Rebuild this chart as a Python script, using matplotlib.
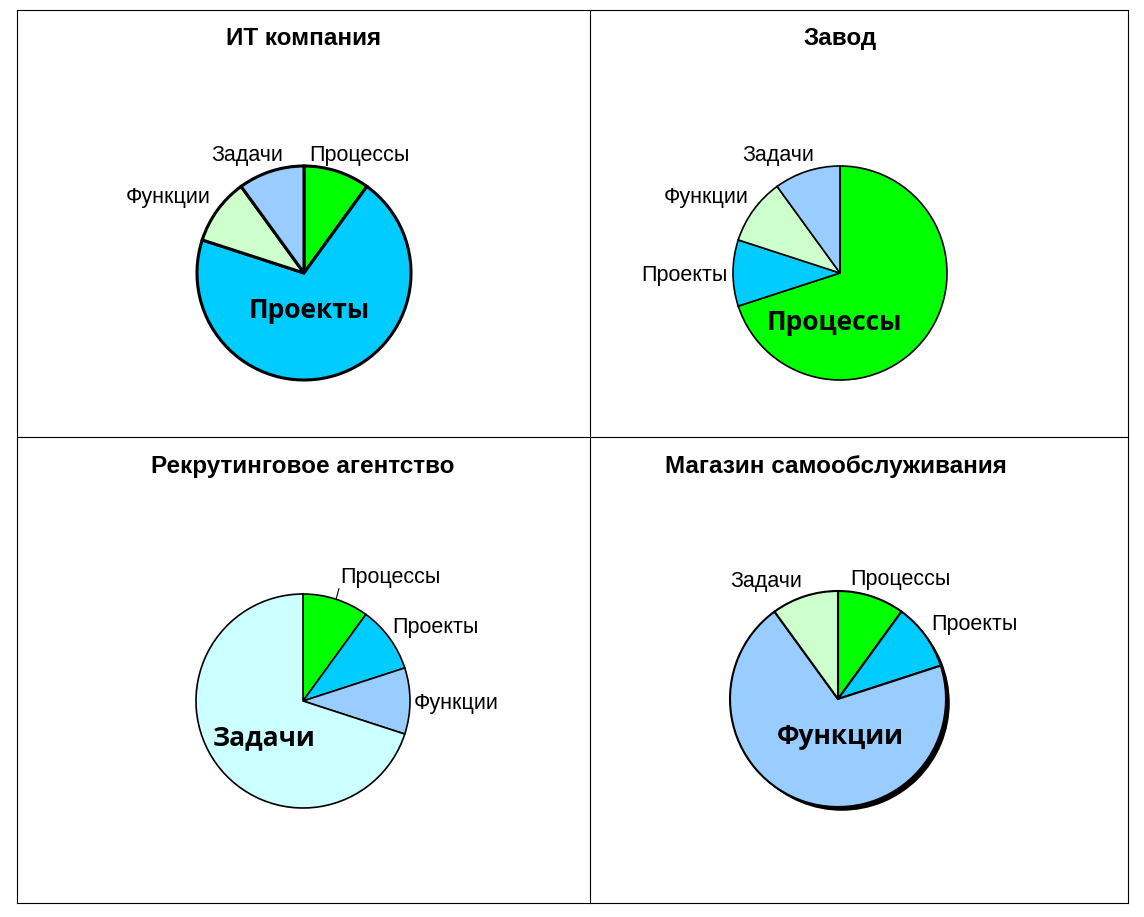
import numpy as np
import matplotlib.pyplot as plt
from matplotlib.lines import Line2D

W, H = 1144, 917

categories = ['Процессы', 'Проекты', 'Функции', 'Задачи']

titles = ['ИТ компания', 'Завод', 'Рекрутинговое агентство', 'Магазин самообслуживания']

values_it      = [10, 70, 10, 10]
values_zavod   = [70, 10, 10, 10]
values_recruit = [10, 10, 10, 70]
values_store   = [10, 10, 70, 10]

colors_it      = ['#00FF00', '#00CCFF', '#CCFFCC', '#99CCFF']
colors_zavod   = ['#00FF00', '#00CCFF', '#CCFFCC', '#99CCFF']
colors_recruit = ['#00FF00', '#00CCFF', '#99CCFF', '#CCFFFF']
colors_store   = ['#00FF00', '#00CCFF', '#99CCFF', '#CCFFCC']

all_values = [values_it, values_zavod, values_recruit, values_store]
all_colors = [colors_it, colors_zavod, colors_recruit, colors_store]

# layout: pie centre / radius in pixels, title baseline position, edge width
pie_centers = [(304, 273), (840, 273), (303, 701), (838, 699)]
pie_radius  = [107, 107, 107, 108]
title_pos   = [(304, 45), (840, 45), (303, 473), (836, 473)]
edge_widths = [2.2, 1.2, 1.2, 1.5]

# label offsets from the pie centre in pixels: (dx, dy, ha)
label_layout = [
    {'Процессы': (5, -117, 'left'), 'Задачи': (-21, -117, 'right'),
     'Функции': (-93, -76, 'right'), 'Проекты': (5, 38, 'center')},
    {'Задачи': (-26, -117, 'right'), 'Функции': (-91, -75, 'right'),
     'Проекты': (-112, 3, 'right'), 'Процессы': (-6, 49, 'center')},
    {'Процессы': (37, -123, 'left'), 'Проекты': (89, -74, 'left'),
     'Функции': (111, 3, 'left'), 'Задачи': (-39, 37, 'center')},
    {'Задачи': (-36, -118, 'right'), 'Процессы': (12, -120, 'left'),
     'Проекты': (93, -75, 'left'), 'Функции': (2, 38, 'center')},
]
leader_lines = [False, False, True, False]


def px_line(x0, y0, x1, y1):
    return Line2D([x0 / W, x1 / W], [1 - y0 / H, 1 - y1 / H],
                  transform=fig.transFigure, color='black', lw=0.8)


fig = plt.figure(figsize=(W / 100, H / 100), dpi=100)

# panel borders
for x in [17, 590, 1128]:
    fig.add_artist(px_line(x, 10, x, 903))
for y in [10, 437, 903]:
    fig.add_artist(px_line(17, y, 1128, y))

half = 200
for i in range(4):
    cx, cy = pie_centers[i]
    r = pie_radius[i]
    ax = fig.add_axes([(cx - half) / W, 1 - (cy + half) / H, 2 * half / W, 2 * half / H])

    if i == 3:
        # shadow under the store pie
        ax.pie([1], colors=['black'], startangle=90, center=(0.035, -0.035),
               wedgeprops=dict(linewidth=0))

    wedges, _ = ax.pie(all_values[i], colors=all_colors[i], startangle=90,
                       counterclock=False,
                       wedgeprops=dict(edgecolor='black', linewidth=edge_widths[i]))

    big = int(np.argmax(all_values[i]))
    for j, name in enumerate(categories):
        dx, dy, ha = label_layout[i][name]
        if j == big:
            ax.text(dx / r, -dy / r, name, ha='center', va='center',
                    fontsize=19, fontweight='bold', family='Open Sans')
        else:
            ax.text(dx / r, -dy / r, name, ha=ha, va='center',
                    fontsize=15.5, family='Liberation Sans')

    if leader_lines[i]:
        w = wedges[0]
        mid = np.deg2rad((w.theta1 + w.theta2) / 2)
        dx, dy, _ = label_layout[i]['Процессы']
        ax.plot([np.cos(mid), dx / r - 0.01], [np.sin(mid), -dy / r - 0.1],
                color='black', lw=0.8)

    lim = half / r
    ax.set_xlim(-lim, lim)
    ax.set_ylim(-lim, lim)
    ax.set_axis_off()

    tx, ty = title_pos[i]
    fig.text(tx / W, 1 - ty / H, titles[i], ha='center', va='baseline',
             fontsize=17.5, fontweight='bold', family='Liberation Sans')

fig.savefig('out.png', dpi=100, facecolor='white')
